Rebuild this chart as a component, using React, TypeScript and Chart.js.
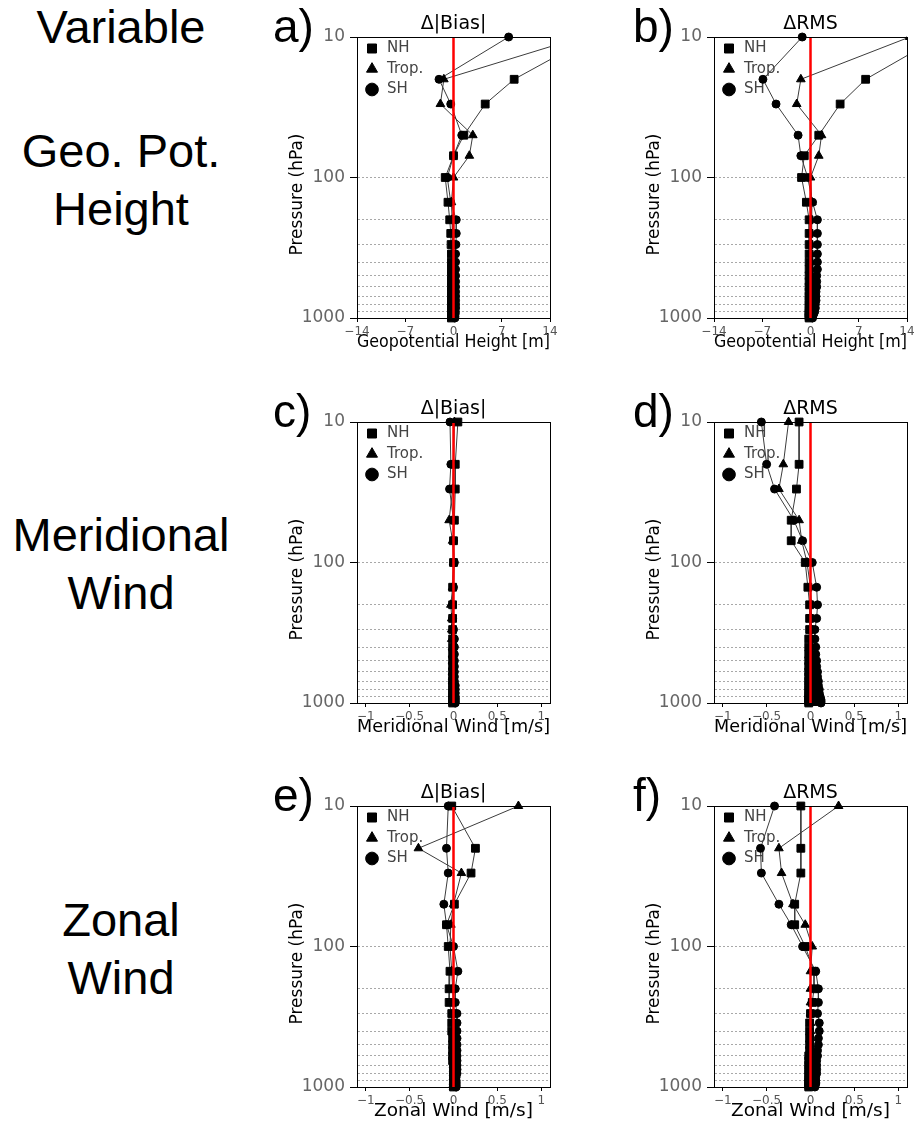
import React, { useEffect, useRef } from 'react';
import { Chart, registerables } from 'chart.js';

Chart.register(...registerables);

// Pressure levels (hPa)
const levels = [10, 20, 30, 50, 70, 100, 150, 200, 250, 300, 350, 400, 450, 500, 550, 600, 650, 700, 750, 800, 850, 900, 925, 950, 975, 1000];
const gridLevels = [10, 20, 30, 40, 50, 60, 70, 80, 90, 100, 200, 300, 400, 500, 600, 700, 800, 900, 1000];
const labeledLevels = [10, 100, 1000];
const gphTicks = [-14, -7, 0, 7, 14];
const windTicks = [-1, -0.5, 0, 0.5, 1];

// a) Geopotential height, Δ|Bias| [m]
const gphBiasNH = [20.0, 8.8, 4.6, 1.5, 0.0, -1.2, -0.8, -0.55, -0.4, -0.35, -0.3, -0.3, -0.3, -0.3, -0.3, -0.3, -0.3, -0.3, -0.3, -0.3, -0.3, -0.3, -0.3, -0.3, -0.3, -0.3];
const gphBiasTrop = [18.6, -1.4, -1.9, 2.8, 2.3, 0.0, -0.3, -0.2, -0.1, -0.1, -0.1, -0.1, -0.1, -0.1, -0.1, -0.1, -0.1, -0.1, 0.0, 0.0, 0.0, 0.0, 0.0, 0.0, 0.0, 0.0];
const gphBiasSH = [8.0, -2.1, -0.4, 1.2, 0.0, -0.9, -0.4, 0.4, 0.4, 0.35, 0.3, 0.3, 0.3, 0.3, 0.3, 0.3, 0.3, 0.3, 0.3, 0.3, 0.3, 0.25, 0.25, 0.2, 0.2, 0.2];

// b) Geopotential height, ΔRMS [m]
const gphRmsNH = [18.7, 8.0, 4.3, 1.2, -0.9, -1.3, -0.6, -0.2, -0.2, -0.2, -0.2, -0.2, -0.2, -0.2, -0.2, -0.2, -0.2, -0.2, -0.2, -0.2, -0.2, -0.2, -0.2, -0.2, -0.2, -0.2];
const gphRmsTrop = [14.4, -1.4, -2.0, 1.6, 1.2, 0.0, 0.2, 0.1, 0.1, 0.1, 0.1, 0.1, 0.1, 0.1, 0.1, 0.1, 0.1, 0.1, 0.1, 0.1, 0.1, 0.1, 0.1, 0.1, 0.1, 0.1];
const gphRmsSH = [-1.2, -6.9, -5.0, -1.8, -1.4, -0.4, 0.3, 1.0, 1.0, 1.0, 1.0, 1.0, 1.0, 0.9, 0.9, 0.9, 0.8, 0.8, 0.8, 0.7, 0.7, 0.6, 0.5, 0.4, 0.3, 0.3];

// c) Meridional wind, Δ|Bias| [m/s]
const mwBiasNH = [0.05, 0.02, 0.02, 0.01, 0.0, 0.0, -0.01, -0.01, -0.01, -0.01, -0.01, -0.01, -0.01, -0.01, -0.01, -0.01, -0.01, -0.01, -0.01, -0.01, -0.01, -0.01, -0.01, -0.01, -0.01, -0.01];
const mwBiasTrop = [0.01, 0.0, -0.01, -0.05, -0.01, 0.0, -0.01, -0.03, -0.02, -0.02, -0.02, -0.01, -0.01, -0.01, -0.01, -0.01, -0.01, -0.01, 0.0, 0.0, 0.0, 0.0, 0.0, 0.0, 0.0, 0.0];
const mwBiasSH = [-0.04, -0.03, -0.045, 0.0, 0.0, 0.01, 0.0, -0.01, -0.01, 0.0, 0.01, 0.01, 0.01, 0.01, 0.01, 0.01, 0.01, 0.01, 0.02, 0.02, 0.02, 0.02, 0.02, 0.02, 0.02, 0.02];

// d) Meridional wind, ΔRMS [m/s]
const mwRmsNH = [-0.13, -0.13, -0.16, -0.22, -0.22, -0.06, -0.03, -0.01, -0.01, -0.01, -0.02, -0.02, -0.02, -0.02, -0.02, -0.02, -0.02, -0.02, -0.02, -0.02, -0.02, -0.02, -0.02, -0.02, -0.02, -0.02];
const mwRmsTrop = [-0.25, -0.31, -0.36, -0.13, -0.1, -0.04, 0.0, 0.01, 0.01, 0.01, 0.01, 0.01, 0.02, 0.02, 0.02, 0.02, 0.03, 0.03, 0.03, 0.03, 0.04, 0.04, 0.04, 0.04, 0.04, 0.04];
const mwRmsSH = [-0.56, -0.5, -0.41, -0.19, -0.09, 0.02, 0.07, 0.08, 0.07, 0.05, 0.05, 0.06, 0.06, 0.07, 0.07, 0.08, 0.08, 0.09, 0.09, 0.1, 0.1, 0.11, 0.11, 0.12, 0.12, 0.12];

// e) Zonal wind, Δ|Bias| [m/s]
const zwBiasNH = [-0.02, 0.25, 0.2, 0.01, -0.08, -0.06, -0.04, -0.05, -0.05, -0.02, -0.02, -0.02, -0.01, -0.01, -0.01, -0.01, -0.01, 0.0, 0.0, 0.0, 0.0, 0.0, 0.0, 0.0, 0.0, 0.0];
const zwBiasTrop = [0.74, -0.4, 0.09, 0.0, -0.03, -0.04, -0.02, -0.01, 0.0, 0.0, 0.0, 0.0, 0.0, 0.0, 0.0, 0.0, 0.0, 0.0, 0.0, 0.0, 0.0, 0.0, 0.0, 0.0, 0.0, 0.0];
const zwBiasSH = [-0.06, -0.08, -0.06, -0.11, -0.08, 0.0, 0.05, 0.02, 0.02, 0.04, 0.04, 0.04, 0.04, 0.04, 0.04, 0.04, 0.04, 0.04, 0.04, 0.04, 0.03, 0.03, 0.03, 0.03, 0.03, 0.03];

// f) Zonal wind, ΔRMS [m/s]
const zwRmsNH = [-0.11, -0.11, -0.11, -0.18, -0.18, -0.06, 0.04, 0.04, 0.02, 0.0, -0.01, -0.01, -0.01, -0.01, -0.01, -0.02, -0.02, -0.02, -0.02, -0.02, -0.02, -0.02, -0.02, -0.02, -0.02, -0.02];
const zwRmsTrop = [0.32, -0.36, -0.33, -0.2, -0.06, 0.02, 0.0, 0.0, 0.0, 0.0, 0.0, 0.0, 0.0, 0.0, 0.0, 0.01, 0.01, 0.01, 0.01, 0.01, 0.01, 0.01, 0.01, 0.01, 0.01, 0.01];
const zwRmsSH = [-0.41, -0.57, -0.56, -0.36, -0.22, -0.09, 0.06, 0.09, 0.09, 0.08, 0.1, 0.1, 0.09, 0.09, 0.08, 0.08, 0.07, 0.07, 0.07, 0.07, 0.06, 0.06, 0.06, 0.06, 0.05, 0.05];

const seriesLabels = ['NH', 'Trop.', 'SH'];
const rowTitles = [['Geo. Pot.', 'Height'], ['Meridional', 'Wind'], ['Zonal', 'Wind']];

const panels = [
  { letter: 'a)', col: 0, row: 0, title: 'Δ|Bias|', xTitle: 'Geopotential Height [m]', xMin: -14, xMax: 14, xTicks: gphTicks, nh: gphBiasNH, trop: gphBiasTrop, sh: gphBiasSH },
  { letter: 'b)', col: 1, row: 0, title: 'ΔRMS', xTitle: 'Geopotential Height [m]', xMin: -14, xMax: 14, xTicks: gphTicks, nh: gphRmsNH, trop: gphRmsTrop, sh: gphRmsSH },
  { letter: 'c)', col: 0, row: 1, title: 'Δ|Bias|', xTitle: 'Meridional Wind [m/s]', xMin: -1.1, xMax: 1.1, xTicks: windTicks, nh: mwBiasNH, trop: mwBiasTrop, sh: mwBiasSH },
  { letter: 'd)', col: 1, row: 1, title: 'ΔRMS', xTitle: 'Meridional Wind [m/s]', xMin: -1.1, xMax: 1.1, xTicks: windTicks, nh: mwRmsNH, trop: mwRmsTrop, sh: mwRmsSH },
  { letter: 'e)', col: 0, row: 2, title: 'Δ|Bias|', xTitle: 'Zonal Wind [m/s]', xMin: -1.1, xMax: 1.1, xTicks: windTicks, nh: zwBiasNH, trop: zwBiasTrop, sh: zwBiasSH },
  { letter: 'f)', col: 1, row: 2, title: 'ΔRMS', xTitle: 'Zonal Wind [m/s]', xMin: -1.1, xMax: 1.1, xTicks: windTicks, nh: zwRmsNH, trop: zwRmsTrop, sh: zwRmsSH },
];

const PLOT_LEFT = [357, 714];
const PLOT_TOP = [37, 422, 806];
const AXIS_W = 80;
const TITLE_H = 37;
const XAXIS_H = 45;
const RIGHT_PAD = 14;
const PLOT_W = 193;
const PLOT_H = 281;
const CANVAS_W = AXIS_W + PLOT_W + RIGHT_PAD;
const CANVAS_H = TITLE_H + PLOT_H + XAXIS_H;
const FONT = "'DejaVu Sans', sans-serif";

const fmtTick = (v: number) => (v < 0 ? '\u2212' : '') + String(Math.abs(v));

const framePlugin = {
  id: 'frameAndTitle',
  afterLayout(chart: any) {
    const lg = chart.legend;
    if (lg) {
      const a = chart.chartArea;
      lg.left = a.left + 2;
      lg.right = lg.left + lg.width;
      lg.top = a.top - 1.5;
      lg.bottom = lg.top + lg.height;
    }
  },
  afterDraw(chart: any) {
    const { ctx, chartArea: a } = chart;
    ctx.save();
    ctx.strokeStyle = '#000';
    ctx.lineWidth = 1;
    const l = Math.round(a.left - 0.5) + 0.5;
    const t = Math.round(a.top - 0.5) + 0.5;
    const r = Math.round(a.right - 0.5) + 0.5;
    const b = Math.round(a.bottom - 0.5) + 0.5;
    ctx.strokeRect(l, t, r - l, b - t);
    // y-axis title
    ctx.translate(a.left - 59.5, (a.top + a.bottom) / 2 + 17);
    ctx.rotate(-Math.PI / 2);
    ctx.fillStyle = '#000';
    ctx.font = `17px ${FONT}`;
    ctx.textAlign = 'center';
    ctx.textBaseline = 'middle';
    ctx.fillText('Pressure (hPa)', 0, 0);
    ctx.restore();
  },
};

function Panel(props: any) {
  const { col, row, title, xTitle, xMin, xMax, xTicks, nh, trop, sh } = props;
  const ref = useRef<HTMLCanvasElement>(null);
  useEffect(() => {
    if (!ref.current) return;
    const toPts = (vals: number[]) => vals.map((v, i) => ({ x: v, y: levels[i] }));
    const common = {
      showLine: true,
      borderColor: '#3c3c3c',
      borderWidth: 1,
      pointBackgroundColor: '#000',
      pointBorderColor: '#000',
      pointBorderWidth: 1,
      clip: { left: 14, top: 14, right: 0, bottom: 14 },
    };
    const chart = new Chart(ref.current, {
      type: 'scatter',
      data: {
        datasets: [
          {
            label: '',
            data: [{ x: 0, y: 10 }, { x: 0, y: 1000 }],
            showLine: true,
            borderColor: '#ff0000',
            borderWidth: 2.5,
            pointRadius: 0,
          },
          { label: seriesLabels[0], data: toPts(nh), pointStyle: 'rect', pointRadius: 5.5, ...common },
          { label: seriesLabels[1], data: toPts(trop), pointStyle: 'triangle', pointRadius: 5, ...common },
          { label: seriesLabels[2], data: toPts(sh), pointStyle: 'circle', pointRadius: 4, ...common },
        ],
      } as any,
      options: {
        animation: false,
        responsive: false,
        devicePixelRatio: 1,
        events: [],
        font: { family: FONT },
        layout: { padding: { left: 0, right: RIGHT_PAD, top: 0, bottom: 0 } },
        plugins: {
          title: {
            display: true,
            fullSize: false,
            text: title,
            color: '#000',
            font: { size: 19, weight: 'normal', family: FONT, lineHeight: 1.25 },
            padding: { top: 12, bottom: TITLE_H - 12 - 19 * 1.25 },
          },
          legend: {
            position: 'chartArea',
            align: 'start',
            labels: {
              usePointStyle: true,
              boxWidth: 15,
              boxHeight: 9,
              padding: 5.5,
              color: '#444',
              font: { size: 15, family: FONT },
              filter: (item: any) => item.text !== '',
            },
          },
          tooltip: { enabled: false },
        },
        scales: {
          x: {
            type: 'linear',
            min: xMin,
            max: xMax,
            afterBuildTicks: (s: any) => {
              s.ticks = xTicks.map((v: number) => ({ value: v }));
            },
            afterFit: (s: any) => {
              s.height = XAXIS_H;
            },
            grid: { drawOnChartArea: false, tickLength: 4, tickColor: '#000' },
            border: { color: '#000', width: 1 },
            ticks: {
              color: '#555',
              font: { size: 12, family: FONT },
              padding: 3,
              maxRotation: 0,
              autoSkip: false,
              callback: (v: any) => fmtTick(Number(v)),
            },
            title: {
              display: true,
              text: xTitle,
              color: '#000',
              font: { size: 18.5, family: FONT, lineHeight: 1.2 },
              padding: { top: 0, bottom: 9.4 },
            },
          },
          y: {
            type: 'logarithmic',
            reverse: true,
            min: 10,
            max: 1000,
            afterBuildTicks: (s: any) => {
              s.ticks = gridLevels.map((v) => ({ value: v }));
            },
            afterFit: (s: any) => {
              s.width = AXIS_W;
            },
            grid: {
              color: (c: any) => (c.tick && c.tick.value >= 100 && c.tick.value < 1000 ? '#a8a8a8' : 'rgba(0,0,0,0)'),
              tickColor: (c: any) => (c.tick && labeledLevels.includes(c.tick.value) ? '#000' : 'rgba(0,0,0,0)'),
              tickLength: 7,
              lineWidth: 1,
            },
            border: { color: '#000', width: 1, dash: [2, 2] },
            ticks: {
              color: '#666',
              font: { size: 17, family: FONT },
              padding: 5,
              autoSkip: false,
              callback: (v: any) => (labeledLevels.includes(Number(v)) ? String(v) : ''),
            },
          },
        },
      } as any,
      plugins: [framePlugin],
    });
    return () => chart.destroy();
  }, []);

  const left = PLOT_LEFT[col] - AXIS_W;
  const top = PLOT_TOP[row] - TITLE_H;
  return (
    <canvas
      ref={ref}
      width={CANVAS_W}
      height={CANVAS_H}
      style={{ position: 'absolute', left, top, width: CANVAS_W, height: CANVAS_H }}
    />
  );
}

export default function App() {
  const labelFont = "'Liberation Sans', Arial, sans-serif";
  return (
    <div style={{ position: 'absolute', left: 0, top: 0, width: 917, height: 1127, background: '#fff', overflow: 'hidden' }}>
      {panels.map((p) => (
        <Panel key={p.letter} {...p} />
      ))}
      <div style={{ position: 'absolute', left: 1, top: 3, width: 240, textAlign: 'center', fontFamily: labelFont, fontSize: 47, lineHeight: '47px', color: '#000' }}>
        Variable
      </div>
      {rowTitles.map((lines, r) => (
        <div
          key={r}
          style={{ position: 'absolute', left: 1, top: 121.7 + r * 384.5, width: 240, textAlign: 'center', fontFamily: labelFont, fontSize: 47, lineHeight: '58px', color: '#000' }}
        >
          {lines.map((t, i) => (
            <div key={i}>{t}</div>
          ))}
        </div>
      ))}
      {panels.map((p) => (
        <div
          key={'l' + p.letter}
          style={{ position: 'absolute', left: p.col === 0 ? 273 : 633, top: PLOT_TOP[p.row] + 5 - 0.8465 * 46, fontFamily: labelFont, fontSize: 46, lineHeight: '46px', color: '#000' }}
        >
          {p.letter}
        </div>
      ))}
    </div>
  );
}
